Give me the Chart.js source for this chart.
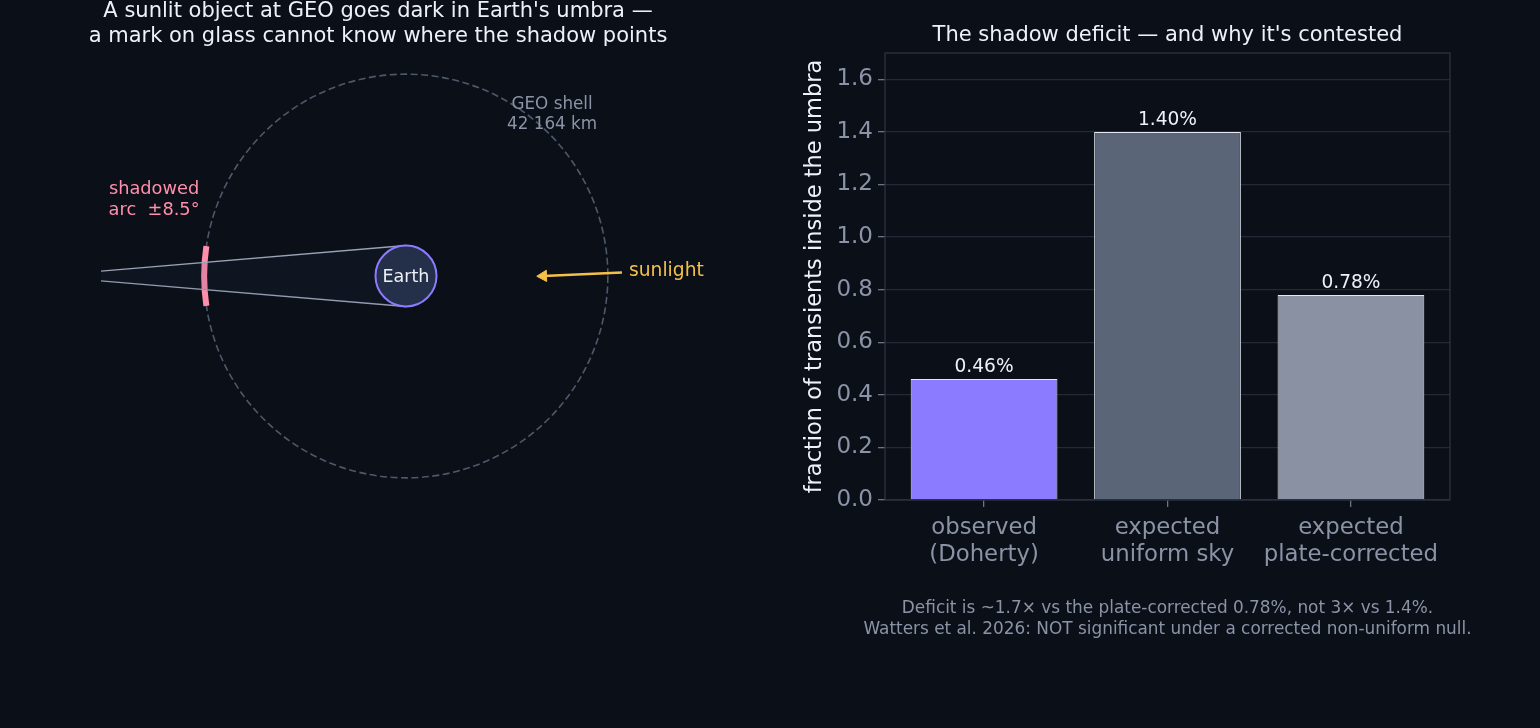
<!DOCTYPE html>
<html>
<head>
<meta charset="utf-8">
<script src="https://cdn.jsdelivr.net/npm/chart.js@4/dist/chart.umd.min.js"></script>
<style>
  html, body { margin:0; padding:0; background:#0b0f17; width:1540px; height:728px; overflow:hidden; }
  canvas { position:absolute; top:0; }
  #left { left:0; }
  #right { left:780px; }
</style>
</head>
<body>
<canvas id="left" width="770" height="728"></canvas>
<canvas id="right" width="760" height="728"></canvas>
<script>
// ---------------- data ----------------
const categories = [['observed', '(Doherty)'], ['expected', 'uniform sky'], ['expected', 'plate-corrected']];
const umbraFraction = [0.46, 1.40, 0.78];
const valueLabels = ['0.46%', '1.40%', '0.78%'];
const yTicks = [0.0, 0.2, 0.4, 0.6, 0.8, 1.0, 1.2, 1.4, 1.6];

// geometry of the diagram (Earth radii)
const earthRadius = 1.0;
const geoRadius = 42164 / 6371;
const shadowHalfAngleDeg = 8.5;
const coneUpper = [{x: 0, y: 1.0}, {x: -10, y: 0.16}];
const coneLower = [{x: 0, y: -1.0}, {x: -10, y: -0.16}];
const sunArrow = [{x: 7.08, y: 0.115}, {x: 4.5, y: 0.0}];

const FONT = "'DejaVu Sans', 'Liberation Sans', sans-serif";
const TXT = '#eef1f7';
const MUTED = '#8b93a7';

// ---------------- left diagram ----------------
const diagramPlugin = {
  id: 'diagram',
  beforeDatasetsDraw(chart) {
    const {ctx, scales: {x, y}} = chart;
    const cx = x.getPixelForValue(0), cy = y.getPixelForValue(0);
    const rGeo = x.getPixelForValue(geoRadius) - cx;
    ctx.save();
    ctx.strokeStyle = '#4e586b';
    ctx.lineWidth = 1.6;
    ctx.setLineDash([7, 3.5]);
    ctx.beginPath();
    ctx.arc(cx, cy, rGeo, 0, Math.PI * 2);
    ctx.stroke();
    ctx.setLineDash([]);
    const a = shadowHalfAngleDeg * Math.PI / 180;
    ctx.strokeStyle = '#ff8fab';
    ctx.lineWidth = 6;
    ctx.beginPath();
    ctx.arc(cx, cy, rGeo, Math.PI - a, Math.PI + a);
    ctx.stroke();
    ctx.restore();
  },
  afterDatasetsDraw(chart) {
    const {ctx, scales: {x, y}} = chart;
    const cx = x.getPixelForValue(0), cy = y.getPixelForValue(0);
    const rE = x.getPixelForValue(earthRadius) - cx;
    ctx.save();
    ctx.fillStyle = '#243049';
    ctx.strokeStyle = '#8b7bff';
    ctx.lineWidth = 2;
    ctx.beginPath();
    ctx.arc(cx, cy, rE, 0, Math.PI * 2);
    ctx.fill();
    ctx.stroke();
    ctx.textAlign = 'center';
    ctx.textBaseline = 'middle';
    ctx.fillStyle = TXT;
    ctx.font = '17.5px ' + FONT;
    ctx.fillText('Earth', cx, cy + 1);

    ctx.fillStyle = MUTED;
    ctx.font = '16.8px ' + FONT;
    const gx = x.getPixelForValue(4.79), gy = y.getPixelForValue(5.31);
    ctx.fillText('GEO shell', gx, gy - 9);
    ctx.fillText('42 164 km', gx, gy + 11);

    ctx.fillStyle = '#ff8fab';
    ctx.font = '17.8px ' + FONT;
    const sx = x.getPixelForValue(-8.26), sy = y.getPixelForValue(2.54);
    ctx.fillText('shadowed', sx, sy - 9.5);
    ctx.fillText('arc  \u00b18.5\u00b0', sx, sy + 11.5);

    ctx.fillStyle = '#f5c04a';
    ctx.font = '18.7px ' + FONT;
    ctx.textAlign = 'left';
    ctx.fillText('sunlight', x.getPixelForValue(7.31), y.getPixelForValue(0.2) + 1);

    ctx.textAlign = 'center';
    ctx.fillStyle = TXT;
    ctx.font = '21px ' + FONT;
    ctx.fillText('A sunlit object at GEO goes dark in Earth\'s umbra \u2014', 378, 12);
    ctx.fillText('a mark on glass cannot know where the shadow points', 378, 36.5);
    ctx.restore();
  }
};

new Chart(document.getElementById('left'), {
  type: 'scatter',
  data: {
    datasets: [
      {data: coneUpper, showLine: true, borderColor: '#9aa3b5', borderWidth: 1.3, pointRadius: 0,
       fill: '+1', backgroundColor: 'rgba(40,60,100,0.12)'},
      {data: coneLower, showLine: true, borderColor: '#9aa3b5', borderWidth: 1.3, pointRadius: 0, fill: false},
      {data: sunArrow, showLine: true, borderColor: '#f5c04a', borderWidth: 2.4, fill: false,
       pointRadius: [0, 6.5], pointStyle: 'triangle', pointRotation: -92,
       pointBackgroundColor: '#f5c04a', pointBorderColor: '#f5c04a', pointBorderWidth: 1}
    ]
  },
  options: {
    responsive: false, animation: false, devicePixelRatio: 1, events: [],
    layout: {padding: {left: 101, right: 59, top: 50, bottom: 226}},
    plugins: {legend: {display: false}, tooltip: {enabled: false}},
    scales: {
      x: {type: 'linear', min: -10, max: 10, display: false},
      y: {type: 'linear', min: -7.41, max: 7.41, display: false}
    }
  },
  plugins: [diagramPlugin]
});

// ---------------- right bar chart ----------------
const barDecor = {
  id: 'barDecor',
  afterDatasetsDraw(chart) {
    const {ctx, chartArea: ca} = chart;
    const meta = chart.getDatasetMeta(0);
    ctx.save();
    ctx.strokeStyle = '#2c3342';
    ctx.lineWidth = 1.3;
    ctx.strokeRect(ca.left, ca.top, ca.right - ca.left, ca.bottom - ca.top);
    ctx.fillStyle = TXT;
    ctx.font = '18.6px ' + FONT;
    ctx.textAlign = 'center';
    ctx.textBaseline = 'alphabetic';
    meta.data.forEach((bar, i) => {
      ctx.fillText(valueLabels[i], bar.x, bar.y - 7);
    });
    ctx.textBaseline = 'middle';
    ctx.font = '21px ' + FONT;
    ctx.fillText('The shadow deficit \u2014 and why it\'s contested', (ca.left + ca.right) / 2, 35.5);
    ctx.fillStyle = MUTED;
    ctx.font = '16.9px ' + FONT;
    ctx.fillText('Deficit is ~1.7\u00d7 vs the plate-corrected 0.78%, not 3\u00d7 vs 1.4%.', (ca.left + ca.right) / 2, 608.5);
    ctx.fillText('Watters et al. 2026: NOT significant under a corrected non-uniform null.', (ca.left + ca.right) / 2, 629.5);
    ctx.restore();
  }
};

new Chart(document.getElementById('right'), {
  type: 'bar',
  data: {
    datasets: [{
      data: umbraFraction.map((v, i) => ({x: i, y: v})),
      backgroundColor: ['#8b7bff', '#5a6678', '#8a91a3'],
      borderColor: '#e6e9f0',
      borderWidth: 1,
      categoryPercentage: 1.0,
      barPercentage: 0.8
    }]
  },
  options: {
    responsive: false, animation: false, devicePixelRatio: 1, events: [],
    layout: {padding: {left: 0, right: 90, top: 53, bottom: 128}},
    plugins: {legend: {display: false}, tooltip: {enabled: false}},
    scales: {
      x: {
        type: 'linear', min: -0.54, max: 2.54, offset: false,
        afterBuildTicks: s => { s.ticks = categories.map((c, i) => ({value: i})); },
        afterFit: s => { s.height = 100; },
        grid: {display: true, offset: false, drawOnChartArea: false, drawTicks: true, tickLength: 7, tickColor: '#6b7384', lineWidth: 1.3},
        border: {display: false},
        ticks: {color: MUTED, font: {family: FONT, size: 22.8, lineHeight: 1.2}, padding: 7.5,
                maxRotation: 0, autoSkip: false,
                callback: v => categories[v]}
      },
      y: {
        type: 'linear', min: 0, max: 1.7,
        afterBuildTicks: s => { s.ticks = yTicks.map(v => ({value: v})); },
        afterFit: s => { s.width = 105; },
        grid: {color: '#232937', lineWidth: 1.3, tickLength: 7, tickColor: '#6b7384'},
        border: {display: false},
        ticks: {color: MUTED, font: {family: FONT, size: 23}, padding: 5, callback: v => v.toFixed(1)},
        title: {display: true, text: 'fraction of transients inside the umbra', color: TXT,
                font: {family: FONT, size: 22.5}, padding: {top: 22, bottom: 0}}
      }
    }
  },
  plugins: [barDecor]
});
</script>
</body>
</html>
